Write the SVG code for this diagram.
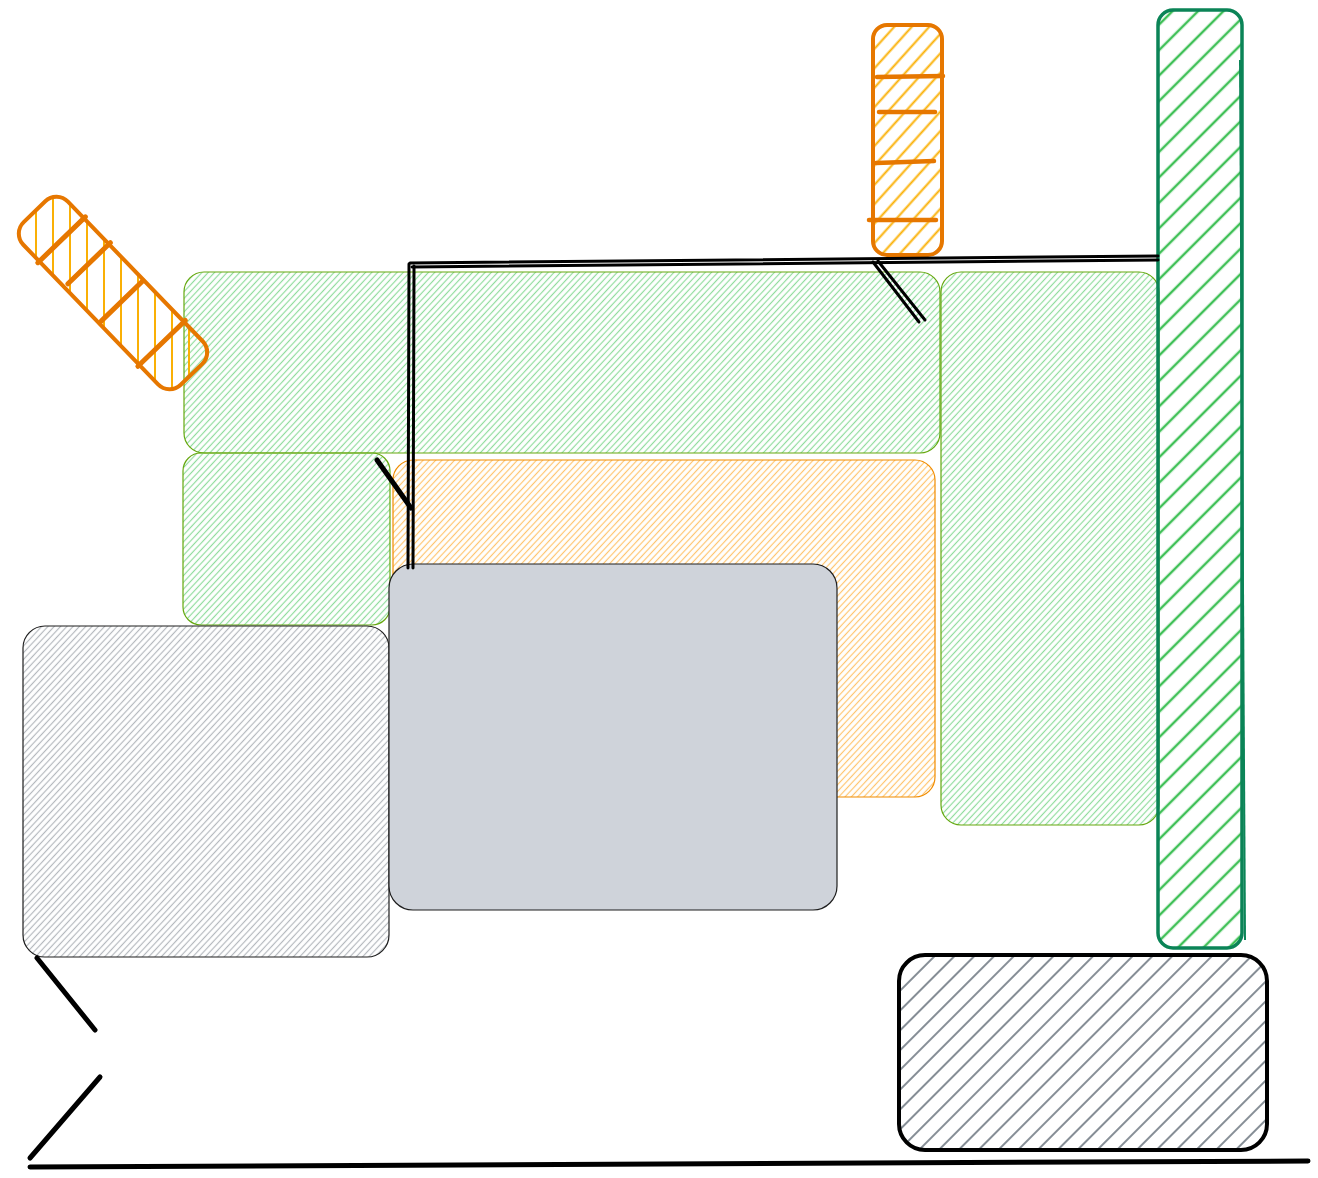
<svg xmlns="http://www.w3.org/2000/svg" width="1318" height="1178" viewBox="0 0 1318 1178">
<defs>
<pattern id="hGreen" patternUnits="userSpaceOnUse" width="10" height="4.6" patternTransform="rotate(-47)"><line x1="0" y1="2.3" x2="10" y2="2.3" stroke="#8fdc9c" stroke-width="1.2"/></pattern>
<pattern id="hOrange" patternUnits="userSpaceOnUse" width="10" height="4.6" patternTransform="rotate(-47)"><line x1="0" y1="2.3" x2="10" y2="2.3" stroke="#ffc46e" stroke-width="1.2"/></pattern>
<pattern id="hGray" patternUnits="userSpaceOnUse" width="10" height="4.6" patternTransform="rotate(-47)"><line x1="0" y1="2.3" x2="10" y2="2.3" stroke="#b4b8bd" stroke-width="1.2"/></pattern>
<pattern id="hGreenBig" patternUnits="userSpaceOnUse" width="20" height="18" patternTransform="rotate(-45)"><line x1="0" y1="9" x2="20" y2="9" stroke="#40c057" stroke-width="2.5"/></pattern>
<pattern id="hOrangeBig" patternUnits="userSpaceOnUse" width="20" height="13" patternTransform="rotate(-48)"><line x1="0" y1="6.5" x2="20" y2="6.5" stroke="#fab005" stroke-width="2"/></pattern>
<pattern id="hOrangeVert" patternUnits="userSpaceOnUse" width="17" height="20" patternTransform="rotate(-46)"><line x1="8" y1="0" x2="8" y2="20" stroke="#fab005" stroke-width="2"/></pattern>
<pattern id="hGrayBig" patternUnits="userSpaceOnUse" width="20" height="14" patternTransform="rotate(-45)"><line x1="0" y1="7" x2="20" y2="7" stroke="#868e96" stroke-width="2"/></pattern>
</defs>
<style>
.thin-green{stroke:#66a80f;stroke-width:1.2}
.thin-orange{stroke:#f08c00;stroke-width:1.2}
.thin-black{stroke:#1e1e1e;stroke-width:1.2}
.wall{stroke:#000;stroke-width:5;stroke-linecap:round;fill:none}
.wall2{stroke:#000;stroke-width:3;stroke-linecap:round;fill:none}
</style>
<rect width="1318" height="1178" fill="#fff"/>

<g id="room-top">
<rect x="184" y="272" width="756" height="181" rx="20" fill="url(#hGreen)" class="thin-green"/>
</g>
<g id="room-left">
<rect x="183" y="453" width="207" height="172" rx="18" fill="url(#hGreen)" class="thin-green"/>
</g>
<g id="room-orange">
<rect x="393" y="460" width="542" height="337" rx="20" fill="url(#hOrange)" class="thin-orange"/>
</g>
<g id="room-right">
<rect x="941" y="272" width="218" height="553" rx="20" fill="url(#hGreen)" class="thin-green"/>
</g>
<g id="room-gray-left">
<rect x="23" y="626" width="366" height="331" rx="22" fill="url(#hGray)" class="thin-black"/>
</g>
<g id="room-gray-center">
<rect x="389" y="564" width="448" height="346" rx="24" fill="#cfd3da" class="thin-black"/>
</g>

<g id="tall-green">
<rect x="1158" y="10" width="84" height="938" rx="15" fill="url(#hGreenBig)" stroke="#0b8457" stroke-width="3.5"/>
<path d="M1240 60 L1245 940" stroke="#0b8457" stroke-width="2" fill="none"/>
</g>

<g id="orange-tall">
<rect x="873" y="25" width="69" height="230" rx="14" fill="url(#hOrangeBig)" stroke="#e67700" stroke-width="4"/>
<line x1="877" y1="77" x2="943" y2="76" stroke="#e67700" stroke-width="4.5" stroke-linecap="round"/>
<line x1="879" y1="112" x2="935" y2="112" stroke="#e67700" stroke-width="4.5" stroke-linecap="round"/>
<line x1="876" y1="163" x2="934" y2="161" stroke="#e67700" stroke-width="4.5" stroke-linecap="round"/>
<line x1="869" y1="220" x2="936" y2="220" stroke="#e67700" stroke-width="4.5" stroke-linecap="round"/>
</g>

<g id="orange-rotated" transform="translate(113 293) rotate(46)">
<rect x="-113" y="-31" width="226" height="62" rx="16" fill="url(#hOrangeVert)" stroke="#e67700" stroke-width="4"/>
<line x1="-74" y1="-33" x2="-74" y2="33" stroke="#e67700" stroke-width="5" stroke-linecap="round"/>
<line x1="-38" y1="-33" x2="-38" y2="26" stroke="#e67700" stroke-width="5" stroke-linecap="round"/>
<line x1="12" y1="-30" x2="12" y2="28" stroke="#e67700" stroke-width="5" stroke-linecap="round"/>
<line x1="70" y1="-33" x2="70" y2="33" stroke="#e67700" stroke-width="5" stroke-linecap="round"/>
</g>

<g id="room-gray-bottom-right">
<rect x="899" y="955" width="368" height="195" rx="26" fill="url(#hGrayBig)" stroke="#000" stroke-width="4"/>
</g>

<g id="connectors">
<path class="wall2" d="M410 263 L1158 256"/>
<path class="wall2" d="M412 267 L1158 260"/>
<path class="wall2" d="M409 264 L408 568"/>
<path class="wall2" d="M414 266 L413 568"/>
<path class="wall2" d="M873 262 L919 322"/>
<path class="wall2" d="M878 261 L925 320"/>
<path class="wall" d="M377 460 L411 508"/>
<path class="wall" d="M37 958 L95 1030"/>
<path class="wall" d="M100 1077 L30 1158"/>
<path class="wall" d="M30 1167 L1308 1161"/>
</g>
</svg>
